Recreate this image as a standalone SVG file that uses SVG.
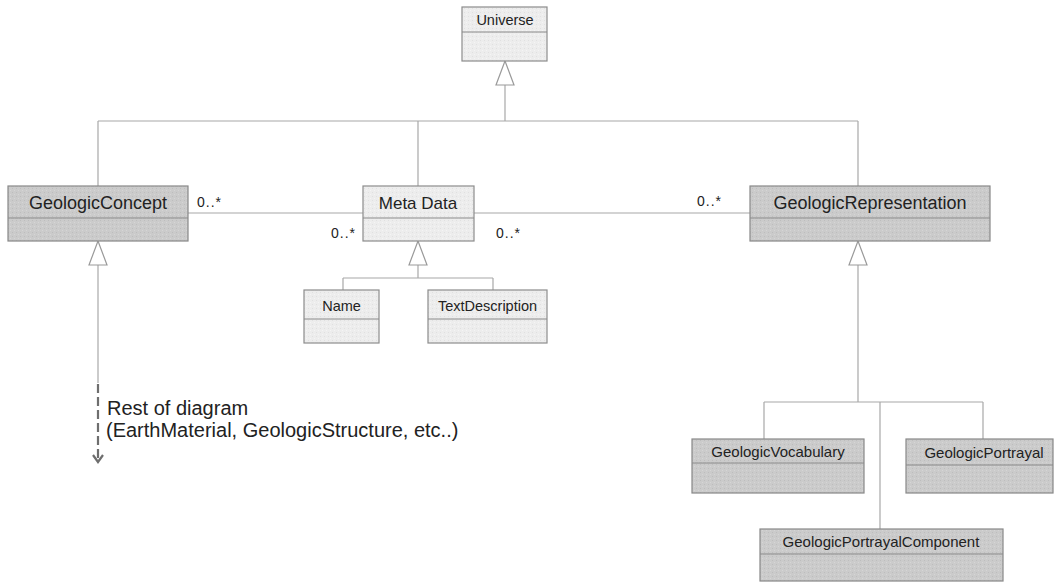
<svg xmlns="http://www.w3.org/2000/svg" width="1055" height="582" viewBox="0 0 1055 582">
  <style>
    .box-dark { stroke: #888888; stroke-width: 1.2; }
    .box-light { stroke: #8c8c8c; stroke-width: 1.2; }
    .divider { stroke: #8a8a8a; stroke-width: 1.2; }
    .wire { fill: none; stroke: #a8a8a8; stroke-width: 1.2; }
    .gen { fill: #ffffff; stroke: #9a9a9a; stroke-width: 1.2; }
    .lbl { font-family: "Liberation Sans", Arial, sans-serif; fill: #222222; text-anchor: middle; }
    .mult { font-family: "Liberation Sans", Arial, sans-serif; fill: #222222; font-size: 14px; }
    .note { font-family: "Liberation Sans", Arial, sans-serif; fill: #222222; font-size: 20px; }
  </style>
  <defs>
    <pattern id="grainDark" width="4" height="4" patternUnits="userSpaceOnUse">
      <rect width="4" height="4" fill="#cbcbcb"/>
      <rect x="0" y="0" width="1" height="1" fill="#bdbdbd"/>
      <rect x="2" y="2" width="1" height="1" fill="#d6d6d6"/>
    </pattern>
    <pattern id="grainLight" width="4" height="4" patternUnits="userSpaceOnUse">
      <rect width="4" height="4" fill="#ededed"/>
      <rect x="0" y="0" width="1" height="1" fill="#e0e0e0"/>
      <rect x="2" y="2" width="1" height="1" fill="#f5f5f5"/>
    </pattern>
  </defs>

  <rect width="1055" height="582" fill="#ffffff"/>

  <!-- connectors -->
  <g id="connectors">
    <!-- generalisation tree under Universe -->
    <path class="wire" d="M505 85 V121 M98 121 H858 M98 121 V186 M418 121 V186 M858 121 V186"/>
    <polygon class="gen" points="505,61 496,85 514,85"/>
    <!-- associations with MetaData -->
    <path class="wire" d="M188 213 H363 M474 213 H750"/>
    <!-- MetaData specialisations -->
    <path class="wire" d="M418 265 V278 M343 278 H493 M343 278 V290 M493 278 V290"/>
    <polygon class="gen" points="418,241 409,265 427,265"/>
    <!-- GeologicConcept continuation -->
    <path class="wire" d="M98 265 V383"/>
    <polygon class="gen" points="98,241 89,265 107,265"/>
    <path d="M98 384 V458" fill="none" stroke="#6e6e6e" stroke-width="2.2" stroke-dasharray="9,4"/>
    <path d="M93 455 L98 462 L103 455" fill="none" stroke="#6e6e6e" stroke-width="2.2"/>
    <!-- GeologicRepresentation specialisations -->
    <path class="wire" d="M858 265 V402 M764 402 H983 M764 402 V439 M983 402 V439 M880 402 V529"/>
    <polygon class="gen" points="858,241 849,265 867,265"/>
    <!-- multiplicities -->
    <text class="mult" x="197" y="207" textLength="24">0..*</text>
    <text class="mult" x="331" y="238" textLength="24">0..*</text>
    <text class="mult" x="496" y="238" textLength="24">0..*</text>
    <text class="mult" x="697" y="206" textLength="24">0..*</text>
  </g>

  <g id="Universe">
    <rect class="box-light" x="462" y="7" width="85" height="54" style="fill:url(#grainLight)"/>
    <line class="divider" x1="462" y1="32" x2="547" y2="32"/>
    <text class="lbl" x="505" y="25" font-size="14.5">Universe</text>
  </g>

  <g id="GeologicConcept">
    <rect class="box-dark" x="8" y="186" width="180" height="55" style="fill:url(#grainDark)"/>
    <line class="divider" x1="8" y1="218" x2="188" y2="218"/>
    <text class="lbl" x="98" y="209" font-size="18">GeologicConcept</text>
  </g>

  <g id="MetaData">
    <rect class="box-light" x="363" y="186" width="111" height="55" style="fill:url(#grainLight)"/>
    <line class="divider" x1="363" y1="218" x2="474" y2="218"/>
    <text class="lbl" x="418" y="209" font-size="17">Meta Data</text>
  </g>

  <g id="GeologicRepresentation">
    <rect class="box-dark" x="750" y="186" width="240" height="55" style="fill:url(#grainDark)"/>
    <line class="divider" x1="750" y1="218" x2="990" y2="218"/>
    <text class="lbl" x="870" y="209" font-size="18">GeologicRepresentation</text>
  </g>

  <g id="Name">
    <rect class="box-light" x="304" y="290" width="75" height="53" style="fill:url(#grainLight)"/>
    <line class="divider" x1="304" y1="319" x2="379" y2="319"/>
    <text class="lbl" x="341.5" y="311" font-size="14.5">Name</text>
  </g>

  <g id="TextDescription">
    <rect class="box-light" x="428" y="290" width="119" height="53" style="fill:url(#grainLight)"/>
    <line class="divider" x1="428" y1="319" x2="547" y2="319"/>
    <text class="lbl" x="487.5" y="311" font-size="14.5">TextDescription</text>
  </g>

  <g id="RestOfDiagram">
    <text class="note" x="107" y="415">Rest of diagram</text>
    <text class="note" x="106" y="437">(EarthMaterial, GeologicStructure, etc..)</text>
  </g>

  <g id="GeologicVocabulary">
    <rect class="box-dark" x="692" y="439" width="172" height="54" style="fill:url(#grainDark)"/>
    <line class="divider" x1="692" y1="463" x2="864" y2="463"/>
    <text class="lbl" x="778" y="457" font-size="15">GeologicVocabulary</text>
  </g>

  <g id="GeologicPortrayal">
    <rect class="box-dark" x="906" y="439" width="147" height="54" style="fill:url(#grainDark)"/>
    <line class="divider" x1="906" y1="465" x2="1053" y2="465"/>
    <text class="lbl" x="984" y="458" font-size="15">GeologicPortrayal</text>
  </g>

  <g id="GeologicPortrayalComponent">
    <rect class="box-dark" x="760" y="529" width="243" height="52" style="fill:url(#grainDark)"/>
    <line class="divider" x1="760" y1="554" x2="1003" y2="554"/>
    <text class="lbl" x="881" y="547" font-size="15">GeologicPortrayalComponent</text>
  </g>
</svg>
